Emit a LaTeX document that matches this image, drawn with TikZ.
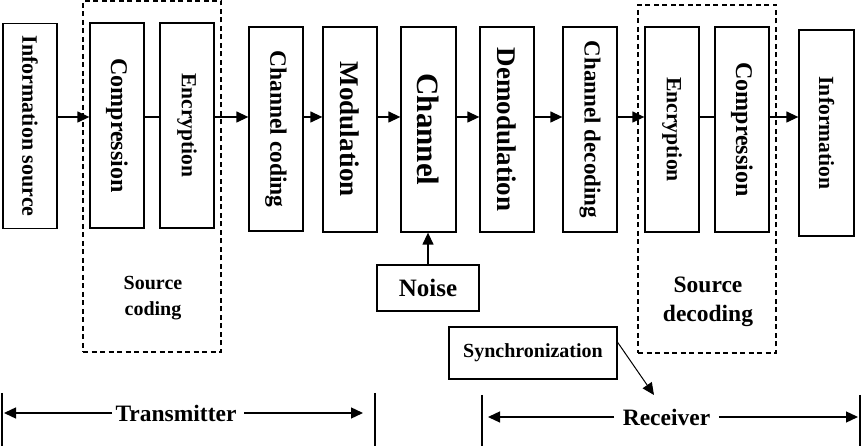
\documentclass[tikz,border=0pt]{standalone}
\usepackage{fontspec}
\setmainfont{Liberation Serif}
\usetikzlibrary{arrows.meta}
\tikzset{>={Triangle[length=12pt,width=11pt]}}
\tikzset{blk/.style={draw, line width=1.3pt, minimum width=54, minimum height=205, inner sep=0pt, font=\bfseries\fontsize{#1}{#1}\selectfont}}
\tikzset{grp/.style={draw, line width=1.3pt, dash pattern=on 5pt off 3.5pt, inner sep=0pt}}
\tikzset{lbl/.style={inner sep=4pt, font=\bfseries\fontsize{#1}{#1}\selectfont}}
\newcommand{\vtext}[1]{\rotatebox{-90}{#1}}

\begin{document}
\begin{tikzpicture}[x=1pt, y=-1pt, line width=1.3pt]
\useasboundingbox (0,0) rectangle (863,446);
% dashed groups
\node[grp, minimum width=138, minimum height=351] (srcgrp) at (152,176.5) {};
\node[grp, minimum width=138, minimum height=348] (dstgrp) at (707,179) {};

% blocks
\node[blk=22] (infosrc) at (30,126) {\vtext{Information source}};
\node[blk=24] (comp1) at (117,125.5) {\vtext{Compression}};
\node[blk=21.5] (encr1) at (187,125.5) {\vtext{Encryption}};
\node[blk=23.5, minimum height=204] (chcod) at (276,129) {\vtext{Channel coding}};
\node[blk=27] (modul) at (350,129.5) {\vtext{Modulation}};
\node[blk=31, minimum width=55] (chan) at (428.5,129.5) {\vtext{Channel}};
\node[blk=27] (demod) at (507,129.5) {\vtext{Demodulation}};
\node[blk=23] (chdec) at (590,129.5) {\vtext{Channel decoding}};
\node[blk=21.7] (encr2) at (672,129.5) {\vtext{Encryption}};
\node[blk=24] (comp2) at (742,129.5) {\vtext{Compression}};
\node[blk=21.6, minimum width=55, minimum height=206] (info) at (826.5,133) {\vtext{Information}};

\node[lbl=20, align=center] (srccod) at (153,298) {Source\\[6pt]coding};
\node[lbl=23.5, align=center] (dstcod) at (708,302) {Source\\[6pt]decoding};

% main line
\coordinate (ax) at (0,117);
\draw[->] (infosrc.east |- ax) -- (comp1.west |- ax);
\draw (comp1.east |- ax) -- (encr1.west |- ax);
\draw[->] (encr1.east |- ax) -- (chcod.west |- ax);
\draw[->] (chcod.east |- ax) -- (modul.west |- ax);
\draw[->] (modul.east |- ax) -- (chan.west |- ax);
\draw[->] (chan.east |- ax) -- (demod.west |- ax);
\draw[->] (demod.east |- ax) -- (chdec.west |- ax);
\draw[->] (chdec.east |- ax) -- (encr2.west |- ax);
\draw (encr2.east |- ax) -- (comp2.west |- ax);
\draw[->] (comp2.east |- ax) -- (info.west |- ax);

% noise and synchronization
\node[draw, lbl=25, minimum width=102, minimum height=46] (noise) at (428,288) {Noise};
\draw[->] (noise.north) -- (noise.north |- chan.south);

\node[draw, lbl=20, minimum width=168, minimum height=52] (sync) at (533,353) {Synchronization};
\coordinate (synctip) at (654,395);
\draw[->, line width=1pt] ([yshift=-16pt]sync.north east) -- (synctip);

% transmitter / receiver spans
\coordinate (txL) at (2,393);
\coordinate (txR) at (375,393);
\draw (txL) -- ++(0,53);
\draw (txR) -- ++(0,53);
\node[lbl=23.5, inner xsep=3pt] (tx) at (176,413) {Transmitter};
\draw[->] (tx.west) -- ([xshift=2pt]tx.west -| txL);
\draw[->] ([xshift=4pt]tx.east) -- ([xshift=-12pt]tx.east -| txR);

\coordinate (rxL) at (482,395);
\coordinate (rxR) at (860,395);
\draw (rxL) -- ++(0,51);
\draw (rxR) -- ++(0,51);
\node[lbl=23.5, inner xsep=8pt] (rx) at (666.5,417) {Receiver};
\draw[->] (rx.west) -- ([xshift=6pt]rx.west -| rxL);
\draw[->] (rx.east) -- ([xshift=-2pt]rx.east -| rxR);
\end{tikzpicture}
\end{document}
